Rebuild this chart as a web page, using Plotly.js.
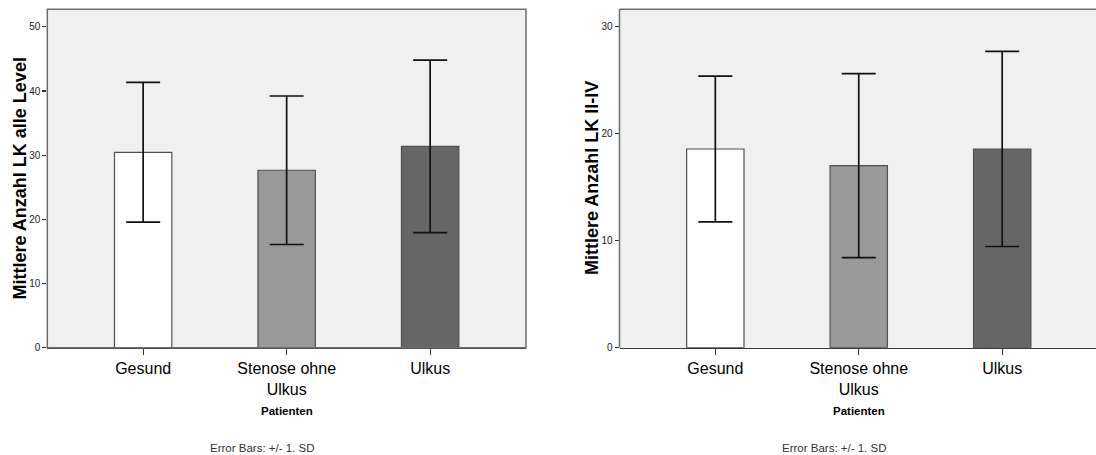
<!DOCTYPE html>
<html>
<head>
<meta charset="utf-8">
<script src="https://cdn.plot.ly/plotly-3.0.1.min.js"></script>
<style>
  html, body { margin: 0; padding: 0; background: #ffffff; overflow: hidden; }
  #chart { width: 1096px; height: 455px; }
</style>
</head>
<body>
<div id="chart"></div>
<script>
// ---- Data ----
const categories = ["Gesund", "Stenose ohne<br>Ulkus", "Ulkus"];
const barColors = ["#ffffff", "#999999", "#666666"];

// Left panel: Mittlere Anzahl LK alle Level
const meanAll = [30.45, 27.65, 31.37];
const sdAll   = [10.88, 11.57, 13.45];

// Right panel: Mittlere Anzahl LK II-IV
const meanII = [18.58, 17.03, 18.58];
const sdII   = [6.82, 8.60, 9.12];

const yTicksAll = [0, 10, 20, 30, 40, 50];
const yTicksII  = [0, 10, 20, 30];

const titleAll = "Mittlere Anzahl LK alle Level";
const titleII  = "Mittlere Anzahl LK II-IV";
const xTitle   = "Patienten";
const footnote = "Error Bars: +/- 1. SD";

// ---- Styling ----
const FONT = "Liberation Sans, Arial, sans-serif";
const NARROW = "Liberation Sans Narrow, Liberation Sans, Arial, sans-serif";
const W = 1096, H = 455;

function barTrace(means, sds, xa, ya) {
  return {
    type: "bar",
    x: categories,
    y: means,
    xaxis: xa, yaxis: ya,
    width: 0.4,
    marker: { color: barColors, line: { color: "#505050", width: 1.2 } },
    error_y: { type: "data", array: sds, visible: true, color: "#111111", thickness: 1.7, width: 17 },
    hoverinfo: "x+y",
    showlegend: false
  };
}

const data = [
  barTrace(meanAll, sdAll, "x", "y"),
  barTrace(meanII, sdII, "x2", "y2")
];

const xCommon = {
  type: "category",
  showgrid: false, zeroline: false,
  showline: true, linecolor: "#3a3a3a", linewidth: 1.5,
  ticks: "outside", ticklen: 6, tickwidth: 1.2, tickcolor: "#333333",
  tickfont: { family: FONT, size: 16, color: "#000000" },
  fixedrange: true
};
const yCommon = {
  showgrid: false, zeroline: false,
  showline: false,
  ticks: "outside", ticklen: 4, tickwidth: 1.2, tickcolor: "#333333",
  tickfont: { family: NARROW, size: 10, color: "#222222" },
  fixedrange: true
};

const leftX0 = 47.3, leftX1 = 526, rightX0 = 619.5;
const plotTop = 9.3, plotBottom = 347.7;

const layout = {
  width: W, height: H,
  margin: { l: 0, r: 0, t: 0, b: 0, pad: 0 },
  paper_bgcolor: "#ffffff",
  plot_bgcolor: "#f0f0f0",
  bargap: 0.6,
  xaxis: Object.assign({}, xCommon, {
    domain: [leftX0 / W, leftX1 / W], anchor: "y",
    range: [-0.668, 2.668]
  }),
  yaxis: Object.assign({}, yCommon, {
    domain: [(H - plotBottom) / H, (H - plotTop) / H], anchor: "x",
    range: [0, 52.73], tickvals: yTicksAll
  }),
  xaxis2: Object.assign({}, xCommon, {
    domain: [rightX0 / W, 1], anchor: "y2",
    range: [-0.668, 2.654]
  }),
  yaxis2: Object.assign({}, yCommon, {
    domain: [(H - plotBottom) / H, (H - plotTop) / H], anchor: "x2",
    range: [0, 31.64], tickvals: yTicksII
  }),
  shapes: [
    { type: "rect", xref: "x domain", yref: "y domain", x0: 0, x1: 1, y0: 0, y1: 1,
      line: { color: "#6e6e6e", width: 1.5 }, layer: "above" },
    { type: "line", xref: "x2 domain", yref: "y2 domain", x0: 0, x1: 0, y0: 0, y1: 1,
      line: { color: "#6e6e6e", width: 1.5 }, layer: "above" },
    { type: "line", xref: "x2 domain", yref: "y2 domain", x0: 0, x1: 1.01, y0: 1, y1: 1,
      line: { color: "#6e6e6e", width: 1.5 }, layer: "above" }
  ],
  annotations: [
    { text: "<b>" + titleAll + "</b>", xref: "paper", yref: "paper",
      x: 19 / W, y: (H - 178.5) / H, xanchor: "center", yanchor: "middle",
      textangle: -90, showarrow: false, font: { family: FONT, size: 18, color: "#000000" } },
    { text: "<b>" + titleII + "</b>", xref: "paper", yref: "paper",
      x: 591.5 / W, y: (H - 178.5) / H, xanchor: "center", yanchor: "middle",
      textangle: -90, showarrow: false, font: { family: FONT, size: 18, color: "#000000" } },
    { text: "<b>" + xTitle + "</b>", xref: "x domain", yref: "paper",
      x: 0.5, y: (H - 410.5) / H, xanchor: "center", yanchor: "middle",
      showarrow: false, font: { family: FONT, size: 11.5, color: "#000000" } },
    { text: "<b>" + xTitle + "</b>", xref: "paper", yref: "paper",
      x: 858.6 / W, y: (H - 410.5) / H, xanchor: "center", yanchor: "middle",
      showarrow: false, font: { family: FONT, size: 11.5, color: "#000000" } },
    { text: footnote, xref: "paper", yref: "paper",
      x: 261.8 / W, y: (H - 448.2) / H, xanchor: "center", yanchor: "middle",
      showarrow: false, font: { family: FONT, size: 11.5, color: "#333333" } },
    { text: footnote, xref: "paper", yref: "paper",
      x: 834 / W, y: (H - 448.2) / H, xanchor: "center", yanchor: "middle",
      showarrow: false, font: { family: FONT, size: 11.5, color: "#333333" } }
  ]
};

Plotly.newPlot("chart", data, layout, { displayModeBar: false, staticPlot: true });
</script>
</body>
</html>
